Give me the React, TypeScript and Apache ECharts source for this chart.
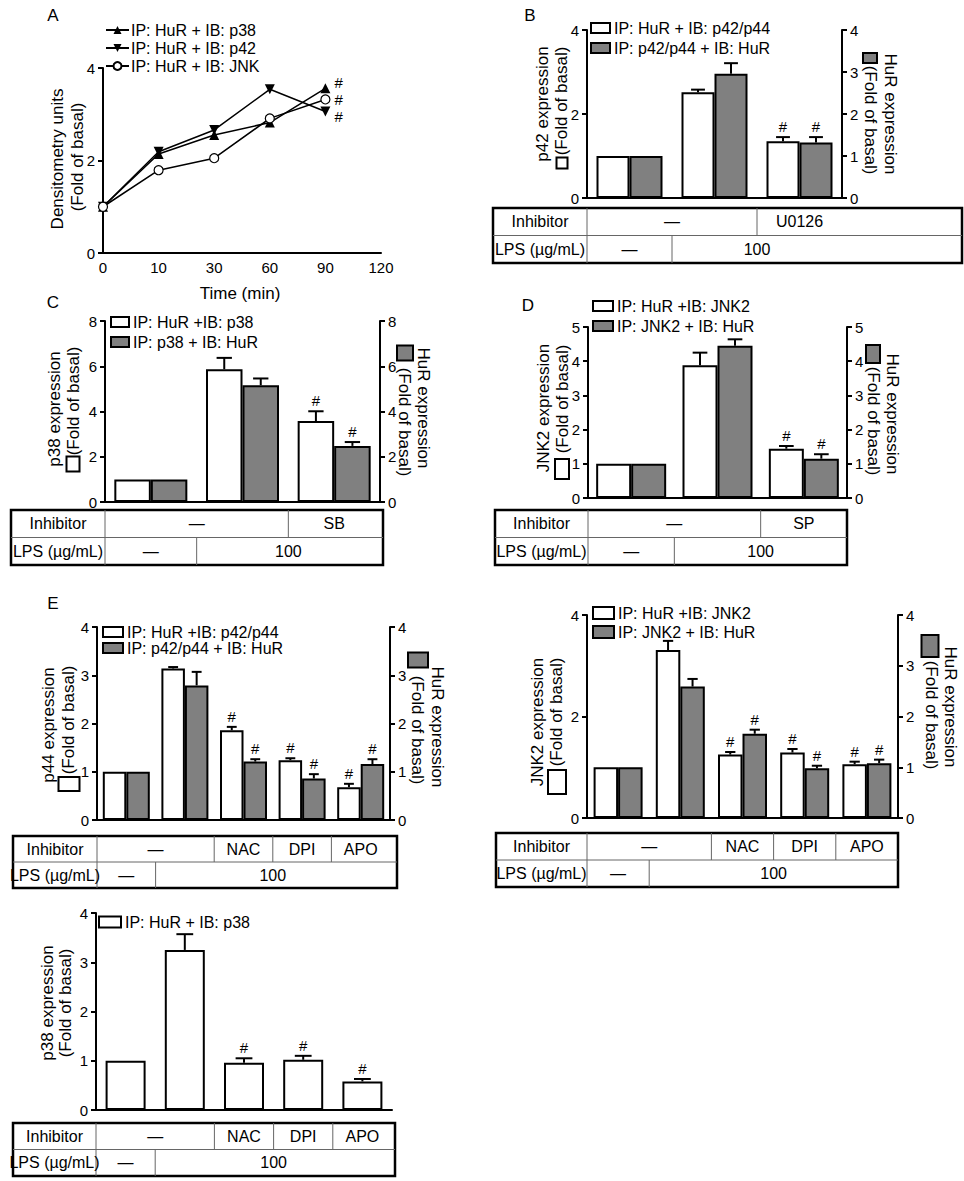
import React, { useEffect, useRef } from "react";
import * as echarts from "echarts";

const FONT = "'Liberation Sans', Arial, Helvetica, sans-serif";
const GREY = "#808080";
const TITLE_SIZE = 17;
const TABLE_SIZE = 16;

// ---------- Panel A (time course) ----------
const aTimes = ["0", "10", "30", "60", "90", "120"];
const aNames = ["IP: HuR + IB: p38", "IP: HuR + IB: p42", "IP: HuR + IB: JNK"];
const aP38 = [1, 2.14, 2.55, 2.82, 3.56];
const aP42 = [1, 2.19, 2.66, 3.54, 3.06];
const aJNK = [1, 1.79, 2.05, 2.91, 3.32];

// ---------- Panel B ----------
const bCats = ["Control", "LPS", "LPS + U0126"];
const bWhite = [1, 2.52, 1.35];
const bWhiteErr = [0, 0.06, 0.1];
const bGrey = [1, 2.96, 1.32];
const bGreyErr = [0, 0.25, 0.13];
const bSig = [0, 0, 1];

// ---------- Panel C ----------
const cCats = ["Control", "LPS", "LPS + SB"];
const cWhite = [1, 5.87, 3.58];
const cWhiteErr = [0, 0.5, 0.43];
const cGrey = [1, 5.16, 2.48];
const cGreyErr = [0, 0.3, 0.17];
const cSig = [0, 0, 1];

// ---------- Panel D ----------
const dCats = ["Control", "LPS", "LPS + SP"];
const dWhite = [1, 3.88, 1.44];
const dWhiteErr = [0, 0.37, 0.08];
const dGrey = [1, 4.45, 1.15];
const dGreyErr = [0, 0.19, 0.13];
const dSig = [0, 0, 1];

// ---------- Panel E (left) ----------
const eCats = ["Control", "LPS", "LPS + NAC", "LPS + DPI", "LPS + APO"];
const eWhite = [1, 3.14, 1.86, 1.24, 0.68];
const eWhiteErr = [0, 0.03, 0.07, 0.04, 0.07];
const eGrey = [1, 2.79, 1.21, 0.86, 1.16];
const eGreyErr = [0, 0.28, 0.05, 0.09, 0.1];
const eSig = [0, 0, 1, 1, 1];

// ---------- Panel E (right) ----------
const fWhite = [1, 3.31, 1.25, 1.29, 1.06];
const fWhiteErr = [0, 0.18, 0.05, 0.07, 0.05];
const fGrey = [1, 2.59, 1.66, 0.98, 1.08];
const fGreyErr = [0, 0.15, 0.08, 0.05, 0.07];
const fSig = [0, 0, 1, 1, 1];

// ---------- Panel E (bottom, p38) ----------
const gWhite = [1, 3.25, 0.96, 1.02, 0.58];
const gWhiteErr = [0, 0.32, 0.09, 0.08, 0.05];
const gSig = [0, 0, 1, 1, 1];

// ---------- Table rows ----------
const inhib3U = [{ t: "—", from: 0, to: 2 }, { t: "U0126", from: 2, to: 3 }];
const inhib3SB = [{ t: "—", from: 0, to: 2 }, { t: "SB", from: 2, to: 3 }];
const inhib3SP = [{ t: "—", from: 0, to: 2 }, { t: "SP", from: 2, to: 3 }];
const inhib5 = [
  { t: "—", from: 0, to: 2 },
  { t: "NAC", from: 2, to: 3 },
  { t: "DPI", from: 3, to: 4 },
  { t: "APO", from: 4, to: 5 },
];
const lps3 = [{ t: "—", from: 0, to: 1 }, { t: "100", from: 1, to: 3 }];
const lps5 = [{ t: "—", from: 0, to: 1 }, { t: "100", from: 1, to: 5 }];
const rowLabels = ["Inhibitor", "LPS (µg/mL)"];

function buildOption() {
  const grids: any[] = [];
  const xAxes: any[] = [];
  const yAxes: any[] = [];
  const series: any[] = [];
  const legends: any[] = [];
  const graphics: any[] = [];

  const txt = (x: number, y: number, text: string, size: number, rotation = 0, align = "center") => ({
    type: "text",
    x,
    y,
    rotation,
    z: 100,
    style: {
      text,
      fill: "#000",
      fontSize: size,
      fontFamily: FONT,
      align,
      verticalAlign: "middle",
      textAlign: align,
      textVerticalAlign: "middle",
    },
  });
  const line = (x1: number, y1: number, x2: number, y2: number, stroke: string, lw: number) => ({
    type: "line",
    z: 100,
    shape: { x1, y1, x2, y2 },
    style: { stroke, lineWidth: lw },
  });
  const box = (cx: number, cy: number, w: number, h: number, fill: string) => ({
    type: "rect",
    z: 100,
    shape: { x: cx - w / 2, y: cy - h / 2, width: w, height: h },
    style: { fill, stroke: "#000", lineWidth: 2 },
  });

  const valueAxis = (gi: number, pos: string, max: number, interval: number) => ({
    gridIndex: gi,
    type: "value",
    position: pos,
    min: 0,
    max,
    interval,
    axisLine: { show: true, onZero: false, lineStyle: { color: "#000", width: 2 } },
    axisTick: { show: true, length: 5, lineStyle: { color: "#000", width: 2 } },
    axisLabel: { color: "#000", fontSize: 15, fontFamily: FONT, margin: 8 },
    splitLine: { show: false },
  });

  // ---------- Panel A ----------
  grids.push({ left: 103, top: 68, width: 278, height: 185 });
  xAxes.push({
    gridIndex: 0,
    type: "category",
    data: aTimes,
    boundaryGap: false,
    axisLine: { show: true, lineStyle: { color: "#000", width: 2 } },
    axisTick: { show: false },
    axisLabel: { color: "#000", fontSize: 15, fontFamily: FONT, margin: 7 },
    splitLine: { show: false },
  });
  yAxes.push(valueAxis(0, "left", 4, 2));
  const hashLast = (arr: number[], off: number[]) =>
    arr.map((v, i) =>
      i === arr.length - 1
        ? {
            value: v,
            label: {
              show: true,
              formatter: "#",
              position: "right",
              distance: 4,
              offset: off,
              color: "#000",
              fontSize: 15,
              fontFamily: FONT,
            },
          }
        : v
    );
  const lineBase = {
    type: "line",
    xAxisIndex: 0,
    yAxisIndex: 0,
    lineStyle: { color: "#000", width: 1.5 },
    itemStyle: { color: "#000" },
    z: 3,
  };
  series.push({ ...lineBase, name: aNames[0], data: hashLast(aP38, [0, -6]), symbol: "triangle", symbolSize: 10 });
  series.push({
    ...lineBase,
    name: aNames[1],
    data: hashLast(aP42, [0, 5]),
    symbol: "triangle",
    symbolRotate: 180,
    symbolSize: 10,
  });
  series.push({
    ...lineBase,
    name: aNames[2],
    data: hashLast(aJNK, [0, 0]),
    symbol: "circle",
    symbolSize: 9,
    itemStyle: { color: "#fff", borderColor: "#000", borderWidth: 1.2 },
  });
  legends.push({
    left: 105,
    top: 22,
    orient: "vertical",
    padding: 0,
    itemGap: 2,
    itemWidth: 23,
    itemHeight: 10,
    data: aNames,
    textStyle: { color: "#000", fontSize: 16, fontFamily: FONT, padding: [0, 0, 0, -3] },
  });
  graphics.push(txt(53, 15, "A", 17));
  graphics.push(txt(57, 159, "Densitometry units", TITLE_SIZE, Math.PI / 2));
  graphics.push(txt(77, 157, "(Fold of basal)", TITLE_SIZE, Math.PI / 2));
  graphics.push(txt(240, 293, "Time (min)", TITLE_SIZE));

  // ---------- Bar panels ----------
  const errSeries = (xi: number, yi: number, vals: number[], errs: number[], sigs: number[], offset: number, w: number) => ({
    type: "custom",
    xAxisIndex: xi,
    yAxisIndex: yi,
    z: 5,
    silent: true,
    data: vals.map((v, i) => [i, v, errs[i], sigs[i]]),
    encode: { x: 0, y: 1 },
    renderItem: (params: any, api: any) => {
      const i = api.value(0);
      const v = api.value(1);
      const e = api.value(2);
      const s = api.value(3);
      const base = api.coord([i, v]);
      const top = api.coord([i, v + e]);
      const x = base[0] + offset;
      const cw = Math.max(9, w * 0.42);
      const children: any[] = [];
      if (e > 0) {
        children.push({ type: "line", shape: { x1: x, y1: base[1], x2: x, y2: top[1] }, style: { stroke: "#000", lineWidth: 2 } });
        children.push({
          type: "line",
          shape: { x1: x - cw / 2, y1: top[1], x2: x + cw / 2, y2: top[1] },
          style: { stroke: "#000", lineWidth: 2 },
        });
      }
      if (s) {
        children.push({
          type: "text",
          x,
          y: top[1] - 3,
          style: {
            text: "#",
            fill: "#000",
            fontSize: 15,
            fontFamily: FONT,
            align: "center",
            verticalAlign: "bottom",
          },
        });
      }
      return { type: "group", children };
    },
  });

  const addBarPanel = (p: any) => {
    const gi = grids.length;
    grids.push(p.grid);
    const n = p.cats.length;
    const xi = xAxes.length;
    xAxes.push({
      gridIndex: gi,
      type: "category",
      data: p.cats,
      axisLine: { show: true, onZero: false, lineStyle: { color: "#000", width: 2 } },
      axisTick: { show: false },
      axisLabel: { show: false },
      splitLine: { show: false },
    });
    const yl = yAxes.length;
    yAxes.push(valueAxis(gi, "left", p.yMax, p.lInt));
    let yr = yl;
    if (p.rInt) {
      yr = yAxes.length;
      yAxes.push(valueAxis(gi, "right", p.yMax, p.rInt));
    }
    const w = p.barWidth;
    const two = !!p.grey;
    series.push({
      type: "bar",
      name: p.names[0],
      xAxisIndex: xi,
      yAxisIndex: yl,
      data: p.white,
      barWidth: w,
      barGap: "0%",
      itemStyle: { color: "#fff", borderColor: "#000", borderWidth: 2 },
      z: 2,
    });
    if (two) {
      series.push({
        type: "bar",
        name: p.names[1],
        xAxisIndex: xi,
        yAxisIndex: yr,
        data: p.grey,
        barWidth: w,
        barGap: "0%",
        itemStyle: { color: GREY, borderColor: "#000", borderWidth: 2 },
        z: 2,
      });
    }
    series.push(errSeries(xi, yl, p.white, p.whiteErr, p.whiteSig, two ? -w / 2 : 0, w));
    if (two) series.push(errSeries(xi, yr, p.grey, p.greyErr, p.greySig, w / 2, w));

    const legData: any[] = [
      { name: p.names[0], icon: "rect", itemStyle: { color: "#fff", borderColor: "#000", borderWidth: 2 } },
    ];
    if (two) legData.push({ name: p.names[1], icon: "rect", itemStyle: { color: GREY, borderColor: "#000", borderWidth: 2 } });
    legends.push({
      left: p.legend.left,
      top: p.legend.top,
      orient: "vertical",
      padding: 0,
      itemGap: p.legend.gap,
      itemWidth: p.legend.w,
      itemHeight: p.legend.h,
      data: legData,
      textStyle: { color: "#000", fontSize: 16, fontFamily: FONT, padding: [0, 0, 0, -1] },
    });

    // axis titles
    p.leftTitle.forEach((l: any) => graphics.push(txt(l.x, l.cy, l.t, TITLE_SIZE, Math.PI / 2)));
    if (p.leftBox) graphics.push(box(p.leftBox.cx, p.leftBox.cy, p.leftBox.w, p.leftBox.h, "#fff"));
    if (p.rightTitle) p.rightTitle.forEach((l: any) => graphics.push(txt(l.x, l.cy, l.t, TITLE_SIZE, -Math.PI / 2)));
    if (p.rightBox) graphics.push(box(p.rightBox.cx, p.rightBox.cy, p.rightBox.w, p.rightBox.h, GREY));
    if (p.letter) graphics.push(txt(p.letter.x, p.letter.y, p.letter.t, 17));

    // table
    const g = p.grid;
    const t = p.table;
    const bx = (k: number) => g.left + (k * g.width) / n;
    const ym = (t.y0 + t.y1) / 2;
    const inner = "#666";
    graphics.push({
      type: "rect",
      z: 100,
      shape: { x: t.x0, y: t.y0, width: t.x1 - t.x0, height: t.y1 - t.y0 },
      style: { fill: "none", stroke: "#000", lineWidth: 2.5 },
    });
    graphics.push(line(t.x0, ym, t.x1, ym, inner, 1));
    graphics.push(line(g.left, t.y0, g.left, t.y1, inner, 1));
    const r1 = (t.y0 + ym) / 2;
    const r2 = (ym + t.y1) / 2;
    graphics.push(txt((t.x0 + g.left) / 2, r1, rowLabels[0], TABLE_SIZE));
    graphics.push(txt((t.x0 + g.left) / 2, r2, rowLabels[1], TABLE_SIZE));
    p.inhib.forEach((c: any) => {
      if (c.from > 0) graphics.push(line(bx(c.from), t.y0, bx(c.from), ym, inner, 1));
      graphics.push(txt((bx(c.from) + bx(c.to)) / 2, r1, c.t, TABLE_SIZE));
    });
    p.lps.forEach((c: any) => {
      if (c.from > 0) graphics.push(line(bx(c.from), ym, bx(c.from), t.y1, inner, 1));
      graphics.push(txt((bx(c.from) + bx(c.to)) / 2, r2, c.t, TABLE_SIZE));
    });
  };

  // Panel B
  addBarPanel({
    grid: { left: 587, top: 30, width: 255, height: 168 },
    cats: bCats,
    white: bWhite, whiteErr: bWhiteErr, whiteSig: bSig,
    grey: bGrey, greyErr: bGreyErr, greySig: bSig,
    names: ["IP: HuR + IB: p42/p44", "IP: p42/p44 + IB: HuR"],
    yMax: 4, lInt: 2, rInt: 1, barWidth: 33,
    legend: { left: 590, top: 20, gap: 4, w: 19, h: 10 },
    table: { x0: 493, x1: 962, y0: 208, y1: 263 },
    inhib: inhib3U, lps: lps3,
    leftTitle: [{ x: 542, cy: 104, t: "p42 expression" }, { x: 561, cy: 101, t: "(Fold of basal)" }],
    leftBox: { cx: 562, cy: 163, w: 11, h: 11 },
    rightTitle: [{ x: 890, cy: 114, t: "HuR expression" }, { x: 870, cy: 120, t: "(Fold of basal)" }],
    rightBox: { cx: 870, cy: 58, w: 14, h: 10 },
    letter: { x: 530, y: 15, t: "B" },
  });

  // Panel C
  addBarPanel({
    grid: { left: 105, top: 321, width: 275, height: 181 },
    cats: cCats,
    white: cWhite, whiteErr: cWhiteErr, whiteSig: cSig,
    grey: cGrey, greyErr: cGreyErr, greySig: cSig,
    names: ["IP: HuR +IB: p38", "IP: p38 + IB: HuR"],
    yMax: 8, lInt: 2, rInt: 2, barWidth: 36.5,
    legend: { left: 110, top: 314, gap: 4, w: 18, h: 10 },
    table: { x0: 11, x1: 383, y0: 510, y1: 565 },
    inhib: inhib3SB, lps: lps3,
    leftTitle: [{ x: 54, cy: 409, t: "p38 expression" }, { x: 73, cy: 401, t: "(Fold of basal)" }],
    leftBox: { cx: 73, cy: 464, w: 13, h: 15 },
    rightTitle: [{ x: 423, cy: 408, t: "HuR expression" }, { x: 404, cy: 422, t: "(Fold of basal)" }],
    rightBox: { cx: 405, cy: 353, w: 16, h: 15 },
    letter: { x: 53, y: 302, t: "C" },
  });

  // Panel D
  addBarPanel({
    grid: { left: 588, top: 327, width: 259, height: 171 },
    cats: dCats,
    white: dWhite, whiteErr: dWhiteErr, whiteSig: dSig,
    grey: dGrey, greyErr: dGreyErr, greySig: dSig,
    names: ["IP: HuR +IB: JNK2", "IP: JNK2 + IB: HuR"],
    yMax: 5, lInt: 1, rInt: 1, barWidth: 35,
    legend: { left: 592, top: 298, gap: 4, w: 20, h: 10 },
    table: { x0: 495, x1: 847, y0: 510, y1: 565 },
    inhib: inhib3SP, lps: lps3,
    leftTitle: [{ x: 543, cy: 408, t: "JNK2 expression" }, { x: 562, cy: 399, t: "(Fold of basal)" }],
    leftBox: { cx: 562, cy: 469, w: 14, h: 20 },
    rightTitle: [{ x: 892, cy: 414, t: "HuR expression" }, { x: 873, cy: 421, t: "(Fold of basal)" }],
    rightBox: { cx: 873, cy: 354, w: 14, h: 18 },
    letter: { x: 528, y: 305, t: "D" },
  });

  // Panel E left
  addBarPanel({
    grid: { left: 97, top: 627, width: 293, height: 193 },
    cats: eCats,
    white: eWhite, whiteErr: eWhiteErr, whiteSig: eSig,
    grey: eGrey, greyErr: eGreyErr, greySig: eSig,
    names: ["IP: HuR +IB: p42/p44", "IP: p42/p44 + IB: HuR"],
    yMax: 4, lInt: 1, rInt: 1, barWidth: 23.5,
    legend: { left: 102, top: 624, gap: 0, w: 20, h: 10 },
    table: { x0: 13, x1: 397, y0: 836, y1: 888 },
    inhib: inhib5, lps: lps5,
    leftTitle: [{ x: 48, cy: 725, t: "p44 expression" }, { x: 68, cy: 720, t: "(Fold of basal)" }],
    leftBox: { cx: 69, cy: 784, w: 21, h: 14 },
    rightTitle: [{ x: 437, cy: 727, t: "HuR expression" }, { x: 417, cy: 730, t: "(Fold of basal)" }],
    rightBox: { cx: 418, cy: 660, w: 20, h: 15 },
    letter: { x: 53, y: 603, t: "E" },
  });

  // Panel E right
  addBarPanel({
    grid: { left: 587, top: 615, width: 311, height: 203 },
    cats: eCats,
    white: fWhite, whiteErr: fWhiteErr, whiteSig: fSig,
    grey: fGrey, greyErr: fGreyErr, greySig: fSig,
    names: ["IP: HuR +IB: JNK2", "IP: JNK2 + IB: HuR"],
    yMax: 4, lInt: 2, rInt: 1, barWidth: 24.5,
    legend: { left: 592, top: 605, gap: 3, w: 21, h: 12 },
    table: { x0: 496, x1: 898, y0: 833, y1: 887 },
    inhib: inhib5, lps: lps5,
    leftTitle: [{ x: 537, cy: 722, t: "JNK2 expression" }, { x: 556, cy: 712, t: "(Fold of basal)" }],
    leftBox: { cx: 557, cy: 782, w: 18, h: 24 },
    rightTitle: [{ x: 950, cy: 707, t: "HuR expression" }, { x: 931, cy: 715, t: "(Fold of basal)" }],
    rightBox: { cx: 930, cy: 646, w: 17, h: 22 },
  });

  // Bottom p38 panel
  addBarPanel({
    grid: { left: 96, top: 913, width: 296, height: 197 },
    cats: eCats,
    white: gWhite, whiteErr: gWhiteErr, whiteSig: gSig,
    names: ["IP: HuR + IB: p38"],
    yMax: 4, lInt: 1, barWidth: 40,
    legend: { left: 98, top: 914, gap: 0, w: 22, h: 11 },
    table: { x0: 13, x1: 395, y0: 1123, y1: 1176 },
    inhib: inhib5, lps: lps5,
    leftTitle: [{ x: 47, cy: 1003, t: "p38 expression" }, { x: 65, cy: 1003, t: "(Fold of basal)" }],
  });

  return {
    animation: false,
    backgroundColor: "#fff",
    textStyle: { fontFamily: FONT },
    grid: grids,
    xAxis: xAxes,
    yAxis: yAxes,
    legend: legends,
    series,
    graphic: { elements: graphics },
  };
}

export default function App() {
  const ref = useRef<HTMLDivElement>(null);
  useEffect(() => {
    if (!ref.current) return;
    const chart = echarts.init(ref.current, null, { renderer: "svg" });
    chart.setOption(buildOption() as any);
    return () => chart.dispose();
  }, []);
  return (
    <div
      ref={ref}
      style={{ position: "absolute", left: 0, top: 0, width: 964, height: 1181, background: "#fff" }}
    />
  );
}
